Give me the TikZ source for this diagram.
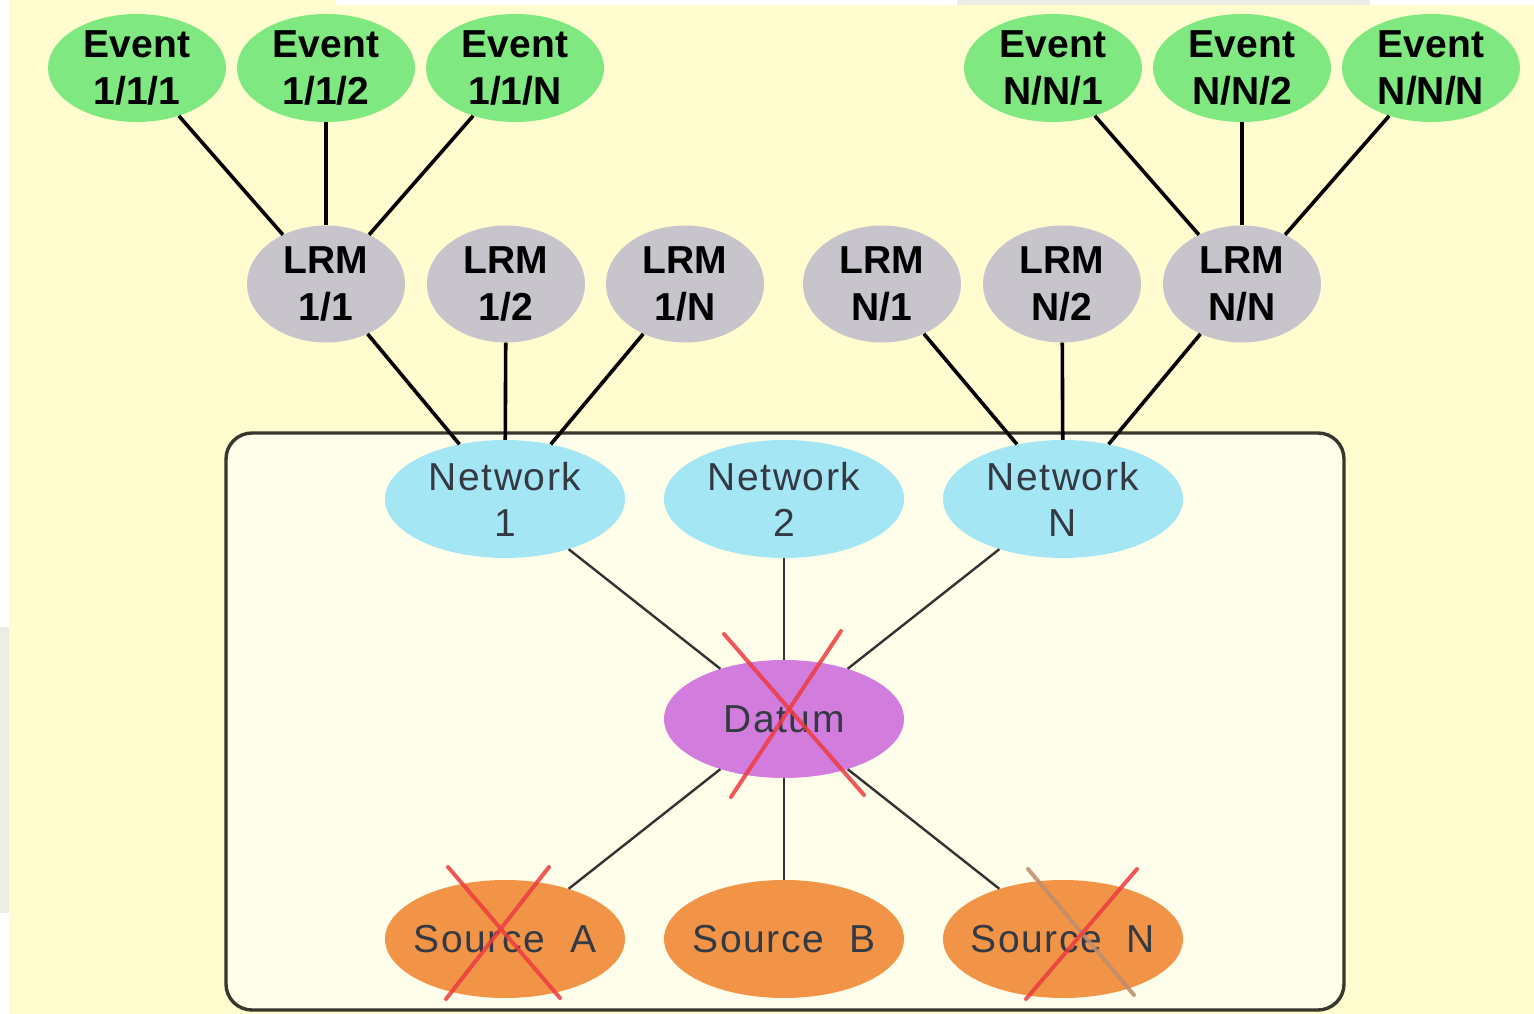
\documentclass[tikz,border=0pt]{standalone}
\usepackage{fontspec}
\setmainfont{Liberation Sans}
\usetikzlibrary{shapes.geometric}
\definecolor{bgyel}{RGB}{255,252,208}
\definecolor{boxin}{RGB}{255,254,234}
\definecolor{boxline}{RGB}{55,55,45}
\definecolor{evgreen}{RGB}{128,232,128}
\definecolor{lrmgrey}{RGB}{200,196,204}
\definecolor{netcyan}{RGB}{165,230,244}
\definecolor{datmag}{RGB}{210,124,222}
\definecolor{srcor}{RGB}{242,148,72}
\definecolor{lowtext}{RGB}{52,58,68}
\definecolor{xred}{RGB}{236,60,64}
\definecolor{xtan}{RGB}{190,140,110}
\definecolor{stripgrey}{RGB}{236,238,230}
\begin{document}
\begin{tikzpicture}[x=1pt,y=-1pt,
  ell/.style={ellipse, inner sep=0pt, align=center, font=\fontsize{39}{47}\selectfont\bfseries},
  eventn/.style={ell, fill=evgreen, minimum width=178pt, minimum height=108pt},
  lrmn/.style={ell, fill=lrmgrey, minimum width=158pt, minimum height=117pt},
  lowtxt/.style={inner sep=0pt, align=center, text=lowtext,
    font=\fontsize{39}{46}\selectfont\addfontfeature{LetterSpace=4}},
  lown/.style={ellipse, inner sep=0pt, minimum width=240pt, minimum height=118pt},
  netn/.style={lown, fill=netcyan},
  datn/.style={lown, fill=datmag},
  srcn/.style={lown, fill=srcor},
  topline/.style={draw=black, line width=3.6pt},
  lowline/.style={draw=black!80, line width=2.4pt},
  xmark/.style={draw=xred, line width=4pt, opacity=0.85, line cap=round},
  xmarktan/.style={draw=xtan, line width=4pt, opacity=0.85, line cap=round}
]
\useasboundingbox (0,0) rectangle (1534,1014);
% background
\fill[white] (0,0) rectangle (1534,1014);
\fill[bgyel] (9,5) rectangle (1534,1014);
\fill[bgyel] (9,0) rectangle (336,5);
\fill[stripgrey] (957,0) rectangle (1370,5);
\fill[stripgrey] (0,627) rectangle (9,913);
% enclosing box
\draw[boxline, fill=boxin, line width=3.4pt, rounded corners=26pt] (226,433) rectangle (1344,1010);

% nodes
\node[eventn] (e111) at (137,68) {Event\\1/1/1};
\node[eventn] (e112) at (326,68) {Event\\1/1/2};
\node[eventn] (e11n) at (515,68) {Event\\1/1/N};
\node[eventn] (enn1) at (1053,68) {Event\\N/N/1};
\node[eventn] (enn2) at (1242,68) {Event\\N/N/2};
\node[eventn] (ennn) at (1431,68) {Event\\N/N/N};

\node[lrmn] (l11) at (326,284) {LRM\\1/1};
\node[lrmn] (l12) at (506,284) {LRM\\1/2};
\node[lrmn] (l1n) at (685,284) {LRM\\1/N};
\node[lrmn] (ln1) at (882,284) {LRM\\N/1};
\node[lrmn] (ln2) at (1062,284) {LRM\\N/2};
\node[lrmn] (lnn) at (1242,284) {LRM\\N/N};

\node[netn, label={[lowtxt]center:Network\\1}] (n1) at (505,499) {};
\node[netn, label={[lowtxt]center:Network\\2}] (n2) at (784,499) {};
\node[netn, label={[lowtxt]center:Network\\N}] (nn) at (1063,499) {};

\node[datn, label={[lowtxt]center:Datum}] (dat) at (784,719) {};

\node[srcn, label={[lowtxt]center:Source\ \ A}] (sa) at (505,939) {};
\node[srcn, label={[lowtxt]center:Source\ \ B}] (sb) at (784,939) {};
\node[srcn, label={[lowtxt]center:Source\ \ N}] (sn) at (1063,939) {};

% connectors
\draw[topline] (e111) -- (l11);
\draw[topline] (e112) -- (l11);
\draw[topline] (e11n) -- (l11);
\draw[topline] (enn1) -- (lnn);
\draw[topline] (enn2) -- (lnn);
\draw[topline] (ennn) -- (lnn);
\draw[topline] (l11) -- (n1);
\draw[topline] (l12) -- (n1);
\draw[topline] (l1n) -- (n1);
\draw[topline] (ln1) -- (nn);
\draw[topline] (ln2) -- (nn);
\draw[topline] (lnn) -- (nn);
\draw[lowline] (n1) -- (dat);
\draw[lowline] (n2) -- (dat);
\draw[lowline] (nn) -- (dat);
\draw[lowline] (dat) -- (sa);
\draw[lowline] (dat) -- (sb);
\draw[lowline] (dat) -- (sn);

% crosses
\draw[xmark] (724,634) -- (864,795);
\draw[xmark] (841,631) -- (731,797);
\draw[xmark] (448,867) -- (560,998);
\draw[xmark] (549,867) -- (446,999);
\draw[xmarktan] (1028,869) -- (1134,995);
\draw[xmark] (1137,869) -- (1026,999);
\end{tikzpicture}
\end{document}
